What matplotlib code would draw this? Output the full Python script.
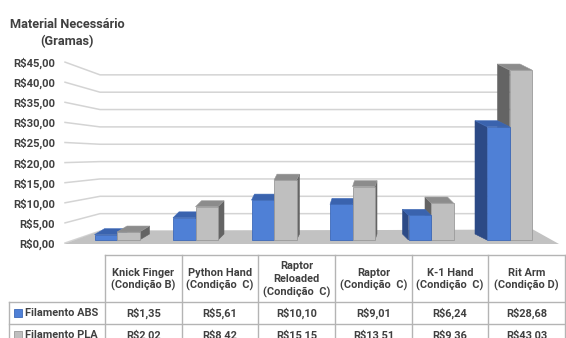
import matplotlib
matplotlib.use("Agg")
import matplotlib.pyplot as plt
from matplotlib.patches import Polygon, Rectangle

# ---------------- data ----------------
categories = ["Knick Finger\n(Condição B)", "Python Hand\n(Condição  C)",
              "Raptor\nReloaded\n(Condição  C)", "Raptor\n(Condição  C)",
              "K-1 Hand\n(Condição  C)", "Rit Arm\n(Condição D)"]
series_names = ["Filamento ABS", "Filamento PLA"]
abs_values = [1.35, 5.61, 10.10, 9.01, 6.24, 28.68]
pla_values = [2.02, 8.42, 15.15, 13.51, 9.36, 43.03]
y_tick_values = [0, 5, 10, 15, 20, 25, 30, 35, 40, 45]
title_text = "Material Necessário\n(Gramas)"


def brl(v):
    return "R$" + f"{v:.2f}".replace(".", ",")


# ---------------- style / layout ----------------
W, H, DPI = 566, 338, 100
FONT = "Roboto"
TXT = "#404040"
BLUE = dict(front="#4F80D6", side="#2C4A86", top="#3A63AE", edge="#3D69B8")
GRAY = dict(front="#BFBFBF", side="#646464", top="#8C8C8C", edge="#9A9A9A")
GRID = "#D4D4D4"
FLOOR = "#C2C2C2"

X0, STEP = 117.0, 78.5        # pixel centre of first category, spacing
BASE, PPU = 240.0, 3.95       # pixel of value 0, pixels per unit
BAR_W = 22.5 / STEP
side_shift_px = [10, 6, 3, 2, -6, -12]   # perspective of side faces
TOP_DEPTH_PX = 6

plt.rcParams["font.family"] = [FONT, "DejaVu Sans"]

fig = plt.figure(figsize=(W / DPI, H / DPI), dpi=DPI)
fig.patch.set_facecolor("white")

# table axes in pixel space (behind)
tax = fig.add_axes([0, 0, 1, 1])
tax.set_xlim(0, W)
tax.set_ylim(H, 0)
tax.axis("off")

# chart axes
AX_L, AX_B = 68, 250
ax = fig.add_axes([AX_L / W, (H - AX_B) / H, (W - AX_L) / W, AX_B / H])
ax.patch.set_alpha(0)


def px_x(p):
    return (p - X0) / STEP


def px_y(p):
    return (BASE - p) / PPU


ax.set_xlim(px_x(AX_L), px_x(W))
ax.set_ylim(px_y(AX_B), px_y(0))
for s in ax.spines.values():
    s.set_visible(False)
ax.set_xticks([])

# y ticks on the front plane
front_pos = [px_y(243 - 4.02 * v) for v in y_tick_values]
ax.set_yticks(front_pos, [brl(v) for v in y_tick_values])
ax.tick_params(axis="y", length=0, pad=9.5, labelsize=8.1, labelcolor=TXT)
for lab in ax.get_yticklabels():
    lab.set_fontweight("bold")

# perspective gridlines
for v in y_tick_values:
    yf = px_y(243 - 4.02 * v)
    yb = px_y(231 - 3.47 * v)
    ax.plot([px_x(65), px_x(100), px_x(531)], [yf, yb, yb], color=GRID,
            lw=1.1, zorder=1, clip_on=False)

# floor
ax.add_patch(Polygon([(px_x(64), px_y(244)), (px_x(100), px_y(231)),
                      (px_x(533), px_y(229.5)), (px_x(559), px_y(244))],
                     closed=True, facecolor=FLOOR, edgecolor="none",
                     zorder=2, clip_on=False))

xs = list(range(len(categories)))
abs_bars = ax.bar([x - BAR_W / 2 for x in xs], abs_values, width=BAR_W,
                  color=BLUE["front"], edgecolor=BLUE["edge"], linewidth=0.6)
pla_bars = ax.bar([x + BAR_W / 2 for x in xs], pla_values, width=BAR_W,
                  color=GRAY["front"], edgecolor=GRAY["edge"], linewidth=0.6)


def add_depth(rect, pal, ox, oy, z):
    x0 = rect.get_x()
    x1 = x0 + rect.get_width()
    h = rect.get_height()
    top = [(x0, h), (x1, h), (x1 + ox, h + oy), (x0 + ox, h + oy)]
    xe = x1 if ox > 0 else x0
    side = [(xe, 0), (xe, h), (xe + ox, h + oy), (xe + ox, oy)]
    ax.add_patch(Polygon(side, closed=True, facecolor=pal["side"],
                         edgecolor=pal["side"], lw=0.4, zorder=z))
    ax.add_patch(Polygon(top, closed=True, facecolor=pal["top"],
                         edgecolor=pal["edge"], lw=0.4, zorder=z))
    rect.set_zorder(z + 0.1)


oy = TOP_DEPTH_PX / PPU
for i in xs:
    ox = side_shift_px[i] / STEP
    if ox > 0:
        zb, zg = 3, 4
    else:
        zb, zg = 4, 3
    add_depth(abs_bars[i], BLUE, ox, oy, zb)
    add_depth(pla_bars[i], GRAY, ox, oy, zg)

# title
fig.text(67 / W, 1 - 33 / H, title_text, ha="center", va="center",
         multialignment="center", fontsize=9.2, fontweight="bold",
         color=TXT, linespacing=1.35)

# ---------------- data table ----------------
T_L, COL_W = 105.0, 76.67
T_R = T_L + COL_W * len(categories)
HDR_T, HDR_B, ROW_H = 255, 302, 22
LBL_L = 9
LINE = "#B4B4B4"
n_rows = len(series_names)
bottom = HDR_B + ROW_H * n_rows

tax.plot([T_L, T_R], [HDR_T, HDR_T], color=LINE, lw=1)
for k in range(n_rows + 1):
    y = HDR_B + ROW_H * k
    tax.plot([LBL_L, T_R], [y, y], color=LINE, lw=1)
for k in range(len(categories) + 1):
    xv = T_L + COL_W * k
    tax.plot([xv, xv], [HDR_T, bottom], color=LINE, lw=1)
tax.plot([LBL_L, LBL_L], [HDR_B, bottom], color=LINE, lw=1)

for i, c in enumerate(categories):
    tax.text(T_L + COL_W * (i + 0.5), (HDR_T + HDR_B) / 2 + 1, c,
             ha="center", va="center", multialignment="center",
             fontsize=7.9, color=TXT, fontweight="bold", linespacing=1.3)

for r, (name, vals, pal) in enumerate(zip(series_names, [abs_values, pla_values], [BLUE, GRAY])):
    yc = HDR_B + ROW_H * (r + 0.5)
    tax.add_patch(Rectangle((14, yc - 4), 8, 8, facecolor=pal["front"],
                            edgecolor=pal["edge"], lw=0.6))
    tax.text(25, yc, name, ha="left", va="center", fontsize=7.9,
             color=TXT, fontweight="bold")
    for i, v in enumerate(vals):
        tax.text(T_L + COL_W * (i + 0.5), yc, brl(v), ha="center",
                 va="center", fontsize=7.9, color=TXT, fontweight="bold")

fig.savefig("out.png", dpi=DPI, facecolor="white")
